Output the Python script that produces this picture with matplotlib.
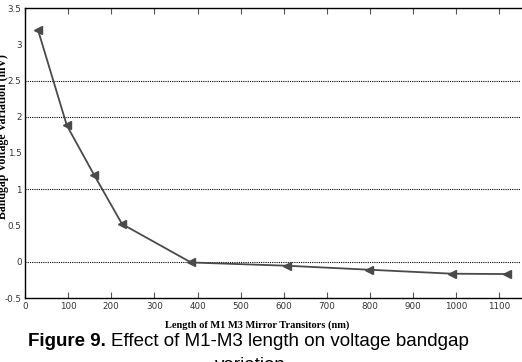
import matplotlib
matplotlib.use("Agg")
import matplotlib.pyplot as plt

# Data
length_nm = [30, 97, 160, 225, 385, 608, 798, 991, 1118]
variation_mv = [3.2, 1.88, 1.2, 0.52, -0.01, -0.055, -0.11, -0.165, -0.17]
x_ticks = [0, 100, 200, 300, 400, 500, 600, 700, 800, 900, 1000, 1100]
y_ticks = [-0.5, 0, 0.5, 1, 1.5, 2, 2.5, 3, 3.5]
y_tick_labels = ["-0.5", "0", "0.5", "1", "1.5", "2", "2.5", "3", "3.5"]
grid_levels = [0, 1, 2, 2.5]

fig = plt.figure(figsize=(5.22, 3.62), dpi=100)
ax = fig.add_axes([25 / 522, 1 - 298 / 362, 496 / 522, 290 / 362])

for g in grid_levels:
    ax.axhline(g, color="black", lw=0.8, ls=(0, (1, 1)), zorder=1)

ax.plot(length_nm, variation_mv, color="#4a4a4a", lw=1.3, marker="<",
        markersize=5.5, markerfacecolor="#4a4a4a", markeredgecolor="#4a4a4a",
        zorder=3)

ax.set_xlim(0, 1150)
ax.set_ylim(-0.5, 3.5)
ax.set_xticks(x_ticks)
ax.set_xticklabels([str(t) for t in x_ticks])
ax.set_yticks(y_ticks)
ax.set_yticklabels(y_tick_labels)
ax.tick_params(axis="x", direction="in", top=True, length=4, width=0.8,
               labelsize=6.3, labelcolor="#333333", color="#555555", pad=3)
ax.tick_params(axis="y", direction="in", length=0, labelsize=6.3,
               labelcolor="#333333", pad=2.5)
for side in ["left", "bottom", "top"]:
    ax.spines[side].set_linewidth(1.0)
ax.spines["right"].set_visible(False)

fig.text(257 / 522, 1 - 325 / 362, "Length of M1 M3 Mirror Transitors (nm)",
         ha="center", va="center", family="Liberation Serif",
         weight="bold", fontsize=7.5)
fig.text(3 / 522, 1 - 137 / 362, "Bandgap Voltage Variation (mV)",
         ha="center", va="center", rotation=90, family="Liberation Serif",
         weight="bold", fontsize=8.5)

cap_y = 1 - 341 / 362
t1 = fig.text(28 / 522, cap_y, "Figure 9.", ha="left", va="center",
              family="Liberation Sans", weight="bold", fontsize=13.5)
fig.canvas.draw()
bb = t1.get_window_extent()
fig.text(bb.x1 / 522 + 0.009, cap_y, "Effect of M1-M3 length on voltage bandgap",
         ha="left", va="center", family="Liberation Sans", fontsize=13.5)
fig.text(250 / 522, 1 - 366 / 362, "variation", ha="center", va="center",
         family="Liberation Sans", fontsize=13.5)

fig.savefig("out.png", dpi=100)
